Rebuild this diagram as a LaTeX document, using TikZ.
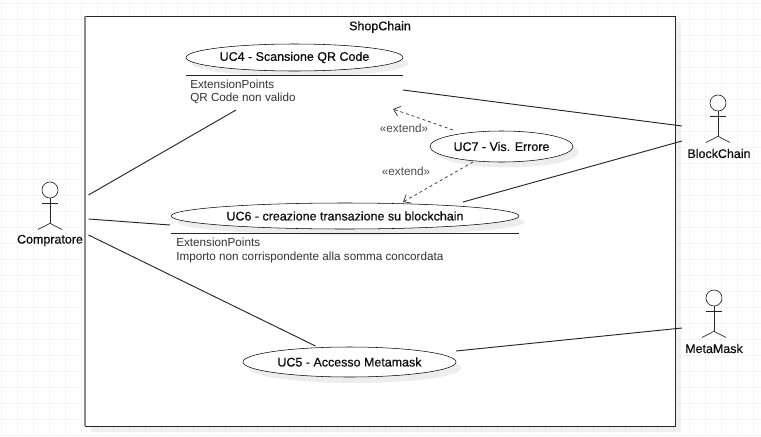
\documentclass[tikz,border=0pt]{standalone}
\usepackage{fontspec}
\setmainfont{Liberation Sans}
\newfontfamily\fakebf[FakeBold=0.6]{Liberation Sans}
\usetikzlibrary{shapes.geometric,arrows.meta}
\definecolor{gridc}{gray}{0.955}
\definecolor{txt}{gray}{0.05}
\tikzset{
  x=0.75pt,y=-0.75pt,
  line width=0.75pt,
  usecase/.style={ellipse,draw=black,fill=white,inner sep=0pt,font=\fakebf\fontsize{9.35}{11}\selectfont,text=txt},
  shade/.style={ellipse,fill=black,fill opacity=0.07,inner sep=0pt},
  plainline/.style={draw=black!85,line width=0.7pt},
  sepline/.style={draw=black!85,line width=0.7pt},
  extpts/.style={anchor=west,inner sep=0pt,font=\fontsize{8.77}{10.1}\selectfont,text=black!80,align=left},
  extline/.style={draw=black!80,line width=0.55pt,dash pattern=on 2.2pt off 2.2pt,-{Straight Barb[length=4.5pt,width=7.5pt]}},
  extlabel/.style={inner sep=0pt,font=\fontsize{8.8}{10}\selectfont,text=black!70},
  actorlabel/.style={inner sep=0pt,font=\fakebf\fontsize{9.35}{11}\selectfont,text=txt},
  head/.style={circle,draw=black!85,line width=0.5pt,fill=white,minimum size=12pt,inner sep=0pt},
  limb/.style={draw=black!85,line width=0.5pt},
}
\newcommand{\actorfig}[5]{% name, x, y head, label, label x
  \node[head] (#1) at (#2,#3) {};
  \draw[limb] (#1.south) -- ++(0,25) coordinate (#1hip);
  \draw[limb] (#2-8,#3+13.5) -- (#2+8,#3+13.5);
  \draw[limb] (#1hip) -- (#2-12,#3+39.5);
  \draw[limb] (#1hip) -- (#2+12,#3+39.5);
  \node[actorlabel] (#1label) at (#5,#3+50.5) {#4};
}
\begin{document}
\begin{tikzpicture}
\useasboundingbox (0,0) rectangle (761,436);
\fill[white] (0,0) rectangle (761,436);
% page grid
\foreach \gx in {1,17,...,753} \draw[gridc,line width=0.75pt] (\gx,0) -- (\gx,436);
\foreach \gy in {3,19,...,435} \draw[gridc,line width=0.75pt] (0,\gy) -- (761,\gy);
% system frame
\fill[black,fill opacity=0.06] (91,22) rectangle (681,432);
\node[draw=black!85,fill=white,inner sep=0pt,minimum width=590*0.75pt,minimum height=410*0.75pt] (frame) at (380,221) {};
\draw[black!45,line width=1.5pt] (frame.north west) -- (frame.south west);
\node[inner sep=0pt,font=\fakebf\fontsize{9.35}{11}\selectfont,text=txt] (title) at (380,27) {ShopChain};
% shadows
\node[shade,minimum width=217*0.75pt,minimum height=27*0.75pt] at (300,63) {};
\node[shade,minimum width=348*0.75pt,minimum height=26*0.75pt] at (351,222) {};
\node[shade,minimum width=143*0.75pt,minimum height=31*0.75pt] at (507,152) {};
\node[shade,minimum width=213*0.75pt,minimum height=30*0.75pt] at (355,368) {};
% use cases
\node[usecase,minimum width=217*0.75pt,minimum height=27*0.75pt] (uc4) at (294.5,57.5) {UC4 - Scansione QR Code};
\node[usecase,minimum width=348*0.75pt,minimum height=26*0.75pt] (uc6) at (345,216) {UC6 - creazione transazione su blockchain};
\node[usecase,minimum width=143*0.75pt,minimum height=31*0.75pt] (uc7) at (501.5,146.5) {UC7 - Vis. Errore};
\node[usecase,minimum width=213*0.75pt,minimum height=30*0.75pt] (uc5) at (349.5,362) {UC5 - Accesso Metamask};
% extension point compartments
\coordinate (s4a) at (186,75); \coordinate (s4b) at (403,75);
\coordinate (s6a) at (171,233); \coordinate (s6b) at (519,233);
\draw[sepline] (s4a) -- (s4b);
\draw[sepline] (s6a) -- (s6b);
\node[extpts] (ep4) at (190,92) {ExtensionPoints\\QR Code non valido};
\node[extpts] (ep6) at (176,250.5) {ExtensionPoints\\Importo non corrispondente alla somma concordata};
% actors
\actorfig{buyer}{50}{190}{Compratore}{50}
\actorfig{chain}{718}{103}{BlockChain}{719}
\actorfig{mask}{714}{298}{MetaMask}{714}
% connector ends
\coordinate (a1) at (88.5,195); \coordinate (u1) at (236,110);
\coordinate (a2) at (88.5,219); \coordinate (u2) at (170,225);
\coordinate (a3) at (88.5,235); \coordinate (u3) at (315.5,346);
\coordinate (b1) at (682,126); \coordinate (u4) at (403,90);
\coordinate (b2) at (682,141); \coordinate (u5) at (463,202);
\coordinate (m1) at (682,328); \coordinate (u6) at (456,351);
\coordinate (e1) at (453,130); \coordinate (e1t) at (393,109);
\coordinate (e2) at (473,162); \coordinate (e2t) at (403,202);
\draw[plainline] (a1) -- (u1);
\draw[plainline] (a2) -- (u2);
\draw[plainline] (a3) -- (u3);
\draw[plainline] (u4) -- (b1);
\draw[plainline] (u5) -- (b2);
\draw[plainline] (u6) -- (m1);
\draw[extline] (e1) -- (e1t);
\draw[extline] (e2) -- (e2t);
\node[extlabel] (x1) at (404,128) {«extend»};
\node[extlabel] (x2) at (406,171) {«extend»};
\end{tikzpicture}
\end{document}
